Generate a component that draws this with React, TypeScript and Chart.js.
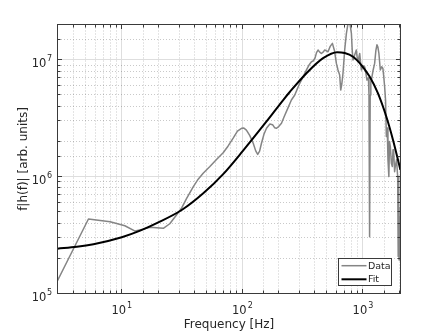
import React, { useEffect, useRef } from 'react';
import { Chart, registerables } from 'chart.js';

Chart.register(...registerables);

// ---- data ----
const dataFreq = [
  2.93, 5.29, 8.0, 10.6, 12.9, 15.0, 17.1, 22.1, 25.0, 28.0, 31.4, 34.5, 39.2, 43, 47.3, 53.8, 61, 69.3,
  76, 83.9, 91, 98.4, 103, 108, 115, 123, 129, 134, 139, 144, 151, 158.5, 169, 178, 185, 192, 200, 211,
  222, 235, 255, 272, 285, 299, 318, 340, 357, 374, 386, 400, 412, 424, 438, 452, 467, 482, 498, 513,
  535, 558, 580, 602, 621, 641, 654, 668, 683, 705, 729, 766, 802, 815, 827, 855, 881, 895, 910, 925,
  940, 955, 970, 1000, 1033, 1055, 1079, 1110, 1122, 1135, 1148, 1162, 1175, 1210, 1250, 1280, 1306,
  1330, 1356, 1393, 1430, 1464, 1490, 1513, 1540, 1563, 1590, 1612, 1640, 1660, 1688, 1720, 1752, 1775,
  1796, 1830, 1854, 1900, 1940, 1960, 1972, 1983, 1995, 2010, 2032, 2045,
];
const dataValues = [
  1.29e5, 4.34e5, 4.11e5, 3.8e5, 3.42e5, 3.55e5, 3.68e5, 3.61e5, 3.95e5, 4.6e5, 5.4e5, 6.5e5, 8.2e5,
  9.5e5, 1.07e6, 1.22e6, 1.4e6, 1.6e6, 1.82e6, 2.13e6, 2.45e6, 2.59e6, 2.6e6, 2.5e6, 2.25e6, 1.93e6,
  1.66e6, 1.55e6, 1.65e6, 1.93e6, 2.3e6, 2.59e6, 2.82e6, 2.78e6, 2.62e6, 2.59e6, 2.68e6, 2.86e6, 3.25e6,
  3.72e6, 4.52e6, 4.99e6, 5.6e6, 6.28e6, 7.1e6, 8.17e6, 9.0e6, 9.61e6, 9.75e6, 1.03e7, 1.15e7, 1.21e7,
  1.16e7, 1.13e7, 1.16e7, 1.21e7, 1.19e7, 1.17e7, 1.3e7, 1.38e7, 1.2e7, 9.3e6, 8.17e6, 7.4e6, 5.5e6,
  6.2e6, 7.65e6, 1.2e7, 1.68e7, 2.3e7, 1.68e7, 1.2e7, 9.95e6, 1.1e7, 1.21e7, 1.05e7, 9.6e6, 1.05e7,
  1.13e7, 9.5e6, 8.17e6, 8.9e6, 8.7e6, 7.8e6, 6.69e6, 7.0e6, 5.0e6, 3.06e5, 5.0e6, 6.5e6, 6.69e6, 8.0e6,
  9.3e6, 1.2e7, 1.34e7, 1.28e7, 1.13e7, 8.17e6, 8.7e6, 8.4e6, 7.0e6, 5.87e6, 4.5e6, 2.2e6, 2.6e6, 1.4e6,
  1.0e6, 2.0e6, 1.8e6, 1.3e6, 1.22e6, 1.7e6, 1.69e6, 1.1e6, 1.22e6, 1.4e6, 1.0e6, 2.07e5, 1.0e6, 6.3e5,
  1.93e5, 4.54e5, 2.69e5, 5.5e5,
];
const fitFreq = [
  2.93, 4.24, 5.82, 10, 14.2, 19.5, 31.4, 47.4, 69.3, 101, 158, 218, 248, 340, 467, 612, 706, 827, 970,
  1135, 1330, 1563, 1775, 2045,
];
const fitValues = [
  2.42e5, 2.51e5, 2.64e5, 3.03e5, 3.45e5, 4.0e5, 5.18e5, 7.2e5, 1.05e6, 1.66e6, 2.95e6, 4.52e6, 5.32e6,
  7.66e6, 1.03e7, 1.16e7, 1.14e7, 1.06e7, 9.0e6, 7.17e6, 5.17e6, 3.25e6, 2.06e6, 1.14e6,
];
const seriesLabels = ['Data', 'Fit'];
const xTickValues = [10, 100, 1000];
const xTickExponents = ['1', '2', '3'];
const yTickValues = [1e5, 1e6, 1e7];
const yTickExponents = ['5', '6', '7'];
const xTitle = 'Frequency [Hz]';
const yTitle = 'f|h(f)| [arb. units]';

// ---- styles ----
const FONT = '"DejaVu Sans", sans-serif';
const TEXT_COLOR = '#262626';
const AXIS_COLOR = '#3a3a3a';
const MAJOR_GRID = '#dedede';
const MINOR_GRID = 'rgba(38,38,38,0.25)';

const isPow10 = (v: any) => {
  if (typeof v !== 'number' || v <= 0) return false;
  const l = Math.log10(v);
  return Math.abs(l - Math.round(l)) < 1e-6;
};
const align = (p: number) => Math.round(p - 0.5) + 0.5;

const decorPlugin = {
  id: 'decor',
  afterDraw(chart: any) {
    const ctx = chart.ctx as CanvasRenderingContext2D;
    const { left, right, top, bottom } = chart.chartArea;
    const xs = chart.scales.x;
    const ys = chart.scales.y;
    ctx.save();
    // inward tick marks
    ctx.strokeStyle = AXIS_COLOR;
    ctx.lineWidth = 1;
    ctx.setLineDash([]);
    ctx.beginPath();
    xs.ticks.forEach((t: any) => {
      const v = t.value;
      if (v <= xs.min || v >= xs.max) return;
      const p = align(xs.getPixelForValue(v));
      const len = isPow10(v) ? 4.5 : 3;
      ctx.moveTo(p, bottom);
      ctx.lineTo(p, bottom - len);
      ctx.moveTo(p, top);
      ctx.lineTo(p, top + len);
    });
    ys.ticks.forEach((t: any) => {
      const v = t.value;
      if (v <= ys.min || v >= ys.max) return;
      const p = align(ys.getPixelForValue(v));
      const len = isPow10(v) ? 4.5 : 3;
      ctx.moveTo(left, p);
      ctx.lineTo(left + len, p);
      ctx.moveTo(right, p);
      ctx.lineTo(right - len, p);
    });
    ctx.stroke();
    // box
    ctx.strokeRect(left, top, right - left, bottom - top);

    // tick labels
    ctx.fillStyle = TEXT_COLOR;
    ctx.textBaseline = 'alphabetic';
    ctx.textAlign = 'left';
    const baseFont = `11.5px ${FONT}`;
    const expFont = `8px ${FONT}`;
    xTickValues.forEach((v, i) => {
      const p = xs.getPixelForValue(v);
      ctx.font = baseFont;
      const wb = ctx.measureText('10').width;
      ctx.font = expFont;
      const we = ctx.measureText(xTickExponents[i]).width;
      const start = p - (wb + 1 + we) / 2;
      ctx.font = baseFont;
      ctx.fillText('10', start, bottom + 20.8);
      ctx.font = expFont;
      ctx.fillText(xTickExponents[i], start + wb + 1, bottom + 14.8);
    });
    yTickValues.forEach((v, i) => {
      const p = ys.getPixelForValue(v);
      ctx.font = expFont;
      const we = ctx.measureText(yTickExponents[i]).width;
      ctx.font = baseFont;
      const wb = ctx.measureText('10').width;
      const expRight = left - 5.3;
      const expLeft = expRight - we;
      ctx.font = expFont;
      ctx.fillText(yTickExponents[i], expLeft, p + 1);
      ctx.font = baseFont;
      ctx.fillText('10', expLeft - 0.7 - wb, p + 7);
    });

    // legend
    const bw = 53.4;
    const bh = 27.4;
    const bx = right - 9 - bw;
    const by = bottom - 7.8 - bh;
    ctx.fillStyle = '#ffffff';
    ctx.fillRect(bx, by, bw, bh);
    ctx.strokeStyle = AXIS_COLOR;
    ctx.lineWidth = 1;
    ctx.strokeRect(Math.round(bx) + 0.5, Math.round(by) + 0.5, Math.round(bw), Math.round(bh));
    ctx.font = `9.5px ${FONT}`;
    ctx.textBaseline = 'middle';
    chart.data.datasets.forEach((ds: any, i: number) => {
      const y = by + 7.4 + i * 13.6;
      ctx.strokeStyle = ds.borderColor;
      ctx.lineWidth = ds.borderWidth;
      ctx.beginPath();
      ctx.moveTo(bx + 3.4, y);
      ctx.lineTo(bx + 28.4, y);
      ctx.stroke();
      ctx.fillStyle = TEXT_COLOR;
      ctx.fillText(ds.label, bx + 29.8, y + 0.5);
    });
    ctx.restore();
  },
};

export default function App() {
  const ref = useRef<HTMLCanvasElement | null>(null);
  useEffect(() => {
    if (!ref.current) return;
    const chart = new Chart(ref.current, {
      type: 'line',
      data: {
        datasets: [
          {
            label: seriesLabels[0],
            data: dataFreq.map((f, i) => ({ x: f, y: dataValues[i] })),
            borderColor: '#858585',
            borderWidth: 1.5,
            pointRadius: 0,
            tension: 0,
            borderJoinStyle: 'round',
            clip: 0,
            order: 1,
          },
          {
            label: seriesLabels[1],
            data: fitFreq.map((f, i) => ({ x: f, y: fitValues[i] })),
            borderColor: '#000000',
            borderWidth: 2,
            pointRadius: 0,
            cubicInterpolationMode: 'monotone',
            clip: 0,
            order: 0,
          },
        ],
      },
      options: {
        animation: false,
        responsive: false,
        maintainAspectRatio: false,
        events: [],
        layout: { padding: { left: 0, top: 24.5, right: 42.5, bottom: 0 } },
        plugins: { legend: { display: false }, tooltip: { enabled: false } },
        scales: {
          x: {
            type: 'logarithmic',
            min: 2.93,
            max: 2048,
            afterFit: (s: any) => { s.height = 38.5; },
            ticks: { display: false },
            grid: {
              drawTicks: false,
              lineWidth: 1,
              color: (c: any) => (isPow10(c.tick && c.tick.value) ? MAJOR_GRID : MINOR_GRID),
            },
            border: {
              display: false,
              dash: (c: any) => (isPow10(c.tick && c.tick.value) ? [] : [1, 2]),
            },
            title: {
              display: true,
              text: xTitle,
              color: TEXT_COLOR,
              font: { family: FONT, size: 12, lineHeight: 1.2 },
              padding: { top: 0, bottom: 0 },
            },
          },
          y: {
            type: 'logarithmic',
            min: 1e5,
            max: 2e7,
            afterFit: (s: any) => { s.width = 57.5; },
            ticks: { display: false },
            grid: {
              drawTicks: false,
              lineWidth: 1,
              color: (c: any) => (isPow10(c.tick && c.tick.value) ? MAJOR_GRID : MINOR_GRID),
            },
            border: {
              display: false,
              dash: (c: any) => (isPow10(c.tick && c.tick.value) ? [] : [1, 2]),
            },
            title: {
              display: true,
              text: yTitle,
              color: TEXT_COLOR,
              font: { family: FONT, size: 12, lineHeight: 1.2 },
              padding: { top: 16.8, bottom: 0 },
            },
          },
        },
      },
      plugins: [decorPlugin],
    } as any);
    return () => chart.destroy();
  }, []);
  return (
    <div style={{ position: 'fixed', left: 0, top: 0, width: 443, height: 332, background: '#fff' }}>
      <canvas ref={ref} width={443} height={332} style={{ display: 'block', width: 443, height: 332 }} />
    </div>
  );
}
